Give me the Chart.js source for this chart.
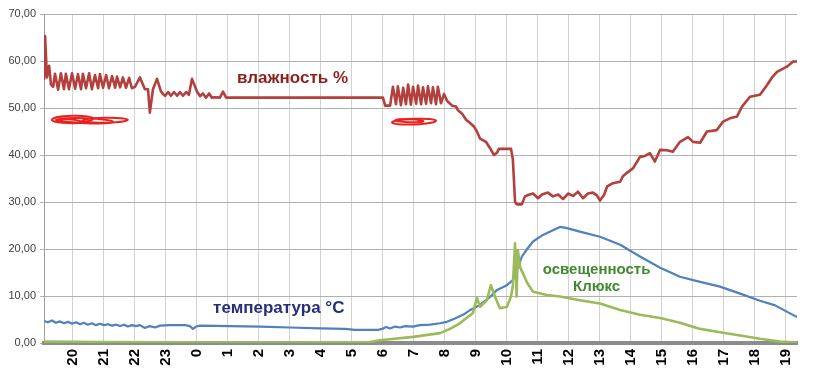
<!DOCTYPE html>
<html>
<head>
<meta charset="utf-8">
<script src="https://cdn.jsdelivr.net/npm/chart.js@4/dist/chart.umd.min.js"></script>
<style>
  html, body { margin: 0; padding: 0; background: #ffffff; }
  #wrap { width: 820px; height: 377px; }
</style>
</head>
<body>
<div id="wrap"><canvas id="c" width="820" height="377"></canvas></div>
<script>
// Time in hours of day, continuing past midnight (24 = 0:00, 43 = 19:00 next day)
const humT = [19.07,19.10,19.16,19.23,19.29,19.36,19.42,19.52,19.61,19.71,19.77,19.87,19.97,20.07,20.16,20.26,20.32,20.42,20.52,20.61,20.71,20.81,20.87,20.97,21.07,21.16,21.26,21.36,21.42,21.52,21.61,21.71,21.81,21.90,22.00,22.16,22.32,22.42,22.48,22.58,22.71,22.84,22.90,22.97,23.07,23.16,23.26,23.36,23.45,23.55,23.65,23.74,23.84,24.00,24.10,24.19,24.29,24.39,24.48,24.58,24.74,24.84,24.94,30.00,30.07,30.23,30.32,30.42,30.48,30.58,30.65,30.74,30.81,30.90,30.97,31.07,31.13,31.23,31.29,31.39,31.45,31.55,31.61,31.71,31.77,31.87,31.97,32.07,32.23,32.36,32.42,32.55,32.68,32.81,32.94,33.03,33.13,33.32,33.45,33.58,33.68,33.74,34.13,34.19,34.26,34.32,34.48,34.58,34.68,34.84,35.00,35.13,35.32,35.48,35.65,35.81,35.97,36.13,36.29,36.45,36.61,36.77,36.90,37.00,37.13,37.23,37.42,37.65,37.74,37.87,38.07,38.19,38.29,38.45,38.61,38.77,38.94,39.16,39.35,39.58,39.84,40.00,40.23,40.45,40.77,40.97,41.19,41.42,41.58,41.84,42.16,42.39,42.55,42.71,43.03,43.23,43.36];
const humV = [56.0,65.3,56.5,59.0,55.0,54.5,57.3,53.9,57.4,54.0,57.3,54.0,57.4,54.1,57.2,54.0,57.3,54.2,57.4,54.0,57.0,54.2,57.2,54.3,57.0,54.2,56.8,54.3,56.7,54.4,56.5,54.3,56.4,54.2,54.5,56.5,54.0,54.0,49.0,54.0,56.2,53.5,53.0,52.6,53.4,52.6,53.4,52.6,53.4,52.6,53.4,52.8,56.2,53.5,52.5,53.1,52.2,53.1,52.2,52.3,52.2,53.5,52.2,52.2,50.5,50.5,54.5,50.8,54.6,50.6,54.3,50.8,55.0,50.7,54.5,50.9,54.8,50.8,54.4,50.9,54.6,51.0,54.4,50.8,54.5,51.0,53.0,51.5,50.5,50.3,49.5,48.8,47.5,46.8,46.0,45.0,43.5,42.8,41.5,40.0,40.5,41.3,41.3,39.0,30.0,29.5,29.5,31.2,31.5,31.8,30.8,31.6,32.0,31.2,31.6,30.6,31.8,31.3,32.2,30.8,31.8,32.0,31.4,30.3,31.5,33.3,34.0,34.3,35.5,36.2,37.2,38.5,39.6,39.8,40.4,38.6,41.1,41.0,40.7,42.8,43.8,42.8,42.6,45.0,45.3,47.1,47.8,48.2,50.3,52.4,52.8,54.9,56.5,57.7,58.8,59.9,59.9];

const tempT = [19.07,19.19,19.32,19.45,19.58,19.71,19.84,19.97,20.10,20.23,20.35,20.48,20.61,20.74,20.87,21.00,21.13,21.26,21.39,21.52,21.65,21.77,21.90,22.03,22.16,22.32,22.48,22.65,22.81,23.13,23.61,23.77,23.87,23.97,24.10,25.06,26.03,27.00,27.97,28.77,29.10,29.84,29.97,30.10,30.23,30.39,30.55,30.71,30.97,31.19,31.52,31.84,32.06,32.32,32.58,32.81,33.13,33.45,33.68,34.00,34.19,34.32,34.48,34.65,34.84,35.16,35.48,35.71,35.90,36.35,37.00,37.65,38.29,38.94,39.58,40.23,40.87,41.52,42.16,42.65,43.13,43.36];
const tempV = [4.7,4.4,4.8,4.3,4.6,4.2,4.5,4.1,4.4,4.0,4.3,3.9,4.2,3.8,4.1,3.8,4.0,3.7,3.9,3.6,3.9,3.5,3.8,3.6,3.8,3.2,3.6,3.3,3.7,3.8,3.8,3.6,3.0,3.5,3.7,3.6,3.5,3.3,3.1,3.0,2.8,2.8,3.0,3.4,3.1,3.5,3.3,3.6,3.5,3.8,3.9,4.2,4.5,5.2,6.0,7.0,8.1,9.8,11.3,12.3,13.4,15.5,18.4,20.0,21.6,23.0,24.0,24.7,24.5,23.7,22.6,20.9,18.4,16.0,14.1,13.0,12.0,10.5,9.0,8.0,6.3,5.5];

const lightT = [19.07,20.87,24.10,27.32,29.58,29.90,30.97,31.84,32.16,32.48,32.90,33.03,33.13,33.35,33.48,33.61,33.77,34.00,34.13,34.19,34.26,34.31,34.35,34.42,34.65,34.84,35.29,35.71,36.35,37.00,37.65,38.29,38.94,39.58,40.23,40.87,41.52,42.16,42.81,43.36];
const lightV = [0.3,0.2,0.1,0.1,0.2,0.6,1.3,2.1,3.0,4.2,6.4,9.6,7.7,9.1,12.3,9.9,7.4,7.7,9.9,12.3,21.2,9.9,19.8,16.2,12.8,10.9,10.2,9.9,9.1,8.4,7.0,6.0,5.3,4.3,3.0,2.3,1.6,0.9,0.3,0.1];

const hourLabels = [20,21,22,23,0,1,2,3,4,5,6,7,8,9,10,11,12,13,14,15,16,17,18,19];
const yTicks = [0,10,20,30,40,50,60,70];

const seriesNames = ['влажность %', 'освещенность Клюкс', 'температура °C'];

function pts(t, v) { return t.map((x, i) => ({ x: x, y: v[i] })); }

const annotations = {
  id: 'annotations',
  afterDatasetsDraw(chart) {
    const ctx = chart.ctx;
    const xs = chart.scales.x, ys = chart.scales.y;
    ctx.save();
    ctx.textBaseline = 'middle';
    ctx.font = 'bold 17px "Liberation Sans", Arial, sans-serif';
    ctx.fillStyle = '#8e1f1f';
    ctx.textAlign = 'left';
    ctx.fillText('влажность %', xs.getPixelForValue(25.29), ys.getPixelForValue(56.4));
    ctx.fillStyle = '#26307a';
    ctx.fillText('температура °C', xs.getPixelForValue(24.52), ys.getPixelForValue(7.45));
    ctx.font = 'bold 15px "Liberation Sans", Arial, sans-serif';
    ctx.fillStyle = '#3f8a2f';
    ctx.textAlign = 'center';
    ctx.fillText('освещенность', xs.getPixelForValue(36.89), ys.getPixelForValue(15.5));
    ctx.fillText('Клюкс', xs.getPixelForValue(36.89), ys.getPixelForValue(11.9));

    // red hand scribbles
    ctx.strokeStyle = '#e8231f';
    ctx.lineWidth = 2;
    function loop(t0, t1, v, ry, ang) {
      const x0 = xs.getPixelForValue(t0), x1 = xs.getPixelForValue(t1);
      const y = ys.getPixelForValue(v);
      ctx.beginPath();
      ctx.ellipse((x0 + x1) / 2, y, (x1 - x0) / 2, ry, ang, 0, Math.PI * 2);
      ctx.stroke();
    }
    loop(19.32, 20.65, 47.6, 3.5, -0.03);
    loop(19.55, 21.30, 47.3, 2.5, 0.04);
    loop(20.30, 21.77, 47.4, 2.5, -0.02);
    loop(19.45, 20.30, 47.2, 1.8, 0.08);
    loop(30.29, 31.71, 47.1, 2.8, -0.04);
    loop(30.40, 31.30, 47.3, 1.5, 0.03);
    ctx.restore();
  }
};

new Chart(document.getElementById('c'), {
  type: 'line',
  data: {
    datasets: [
      { label: seriesNames[0], data: pts(humT, humV), borderColor: '#b3403d', borderWidth: 2.6 },
      { label: seriesNames[1], data: pts(lightT, lightV), borderColor: '#9bbb59', borderWidth: 2.6 },
      { label: seriesNames[2], data: pts(tempT, tempV), borderColor: '#4f81bd', borderWidth: 2.2 }
    ]
  },
  options: {
    responsive: false,
    animation: false,
    parsing: true,
    elements: { point: { radius: 0 }, line: { tension: 0, borderJoinStyle: 'round' } },
    layout: { padding: { top: 14, right: 23, left: 0, bottom: 0 } },
    plugins: { legend: { display: false }, tooltip: { enabled: false } },
    scales: {
      x: {
        type: 'linear',
        min: 19.065,
        max: 43.355,
        afterBuildTicks(scale) {
          scale.ticks = hourLabels.map((h, i) => ({ value: 20 + i }));
        },
        afterFit(scale) { scale.height = 34; },
        ticks: {
          autoSkip: false,
          minRotation: 90,
          maxRotation: 90,
          padding: 6,
          color: '#000000',
          font: { family: '"Liberation Sans", Arial, sans-serif', size: 15, weight: 'bold' },
          callback: (v, i) => String(hourLabels[i])
        },
        grid: { color: '#d2d2d2', lineWidth: 1, drawTicks: false },
        border: { color: '#8c8c8c', width: 4 }
      },
      y: {
        min: 0,
        max: 70,
        afterBuildTicks(scale) {
          scale.ticks = yTicks.map(v => ({ value: v }));
        },
        afterFit(scale) { scale.width = 44; },
        ticks: {
          padding: 4,
          color: '#404040',
          font: { family: '"Liberation Sans", Arial, sans-serif', size: 11 },
          callback: v => v.toFixed(2).replace('.', ',')
        },
        grid: { color: '#b0b0b0', lineWidth: 1, tickLength: 4 },
        border: { color: '#a0a0a0', width: 1 }
      }
    }
  },
  plugins: [annotations]
});
</script>
</body>
</html>
